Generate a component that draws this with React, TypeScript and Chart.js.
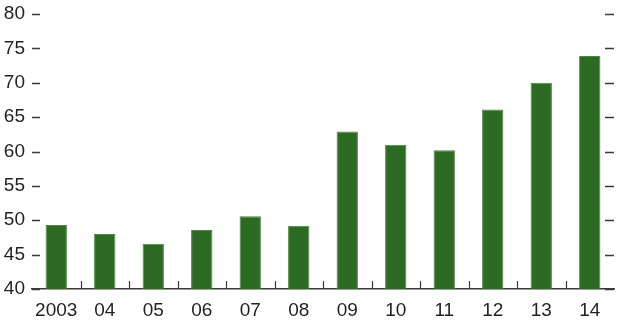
import { useEffect, useRef } from "react";
import { Chart, registerables } from "chart.js";

Chart.register(...registerables);

// Yearly values, 2003–2014
const years = ["2003", "04", "05", "06", "07", "08", "09", "10", "11", "12", "13", "14"];
const values = [49.3, 48.0, 46.6, 48.6, 50.6, 49.2, 62.9, 61.0, 60.2, 66.1, 70.0, 73.9];
const yMin = 40;
const yMax = 80;
const yStep = 5;

const BAR_COLOR = "#2d6a23";
const BAR_EDGE = "#4f8543";
const AXIS_COLOR = "#3a3a3a";
const TEXT_COLOR = "#231f20";
const FONT_FAMILY = "Arial, 'Liberation Sans', Helvetica, sans-serif";

// Short inward dashes on both sides for each y tick, plus small upward
// ticks on the x axis between categories.
const tickMarks = {
  id: "tickMarks",
  afterDraw(chart: Chart) {
    const { ctx, chartArea, scales } = chart;
    const y = scales.y;
    const x = scales.x;
    ctx.save();
    ctx.strokeStyle = AXIS_COLOR;
    ctx.lineWidth = 1.4;
    for (const t of y.ticks) {
      const py = Math.round(y.getPixelForValue(t.value)) + 0.5;
      ctx.beginPath();
      ctx.moveTo(chartArea.left, py);
      ctx.lineTo(chartArea.left + 8, py);
      ctx.moveTo(chartArea.right - 9, py);
      ctx.lineTo(chartArea.right, py);
      ctx.stroke();
    }
    const base = y.getPixelForValue(yMin);
    ctx.lineWidth = 1.2;
    for (let i = 0; i < years.length - 1; i++) {
      const px = Math.round((x.getPixelForValue(i) + x.getPixelForValue(i + 1)) / 2) + 0.5;
      ctx.beginPath();
      ctx.moveTo(px, base);
      ctx.lineTo(px, base - 8);
      ctx.stroke();
    }
    ctx.restore();
  },
};

export default function App() {
  const canvasRef = useRef<HTMLCanvasElement | null>(null);

  useEffect(() => {
    document.body.style.margin = "0";
    const canvas = canvasRef.current;
    if (!canvas) return;
    const chart = new Chart(canvas, {
      type: "bar",
      data: {
        labels: years,
        datasets: [
          {
            data: values,
            backgroundColor: BAR_COLOR,
            borderColor: BAR_EDGE,
            borderWidth: 1,
            categoryPercentage: 1,
            barPercentage: 0.44,
          },
        ],
      },
      options: {
        responsive: false,
        animation: false,
        devicePixelRatio: 1,
        layout: { padding: { top: 14, right: 7, left: 0, bottom: 0 } },
        plugins: {
          legend: { display: false },
          tooltip: { enabled: false },
        },
        scales: {
          x: {
            grid: { display: false, drawTicks: false },
            border: { display: true, color: AXIS_COLOR, width: 1.5 },
            ticks: {
              color: TEXT_COLOR,
              font: { family: FONT_FAMILY, size: 19 },
              padding: 10,
              maxRotation: 0,
              autoSkip: false,
            },
            afterFit(scale: any) {
              scale.height = 33;
              scale.paddingLeft = 0;
              scale.paddingRight = 0;
            },
          },
          y: {
            min: yMin,
            max: yMax,
            grid: { display: false, drawTicks: false },
            border: { display: false },
            ticks: {
              stepSize: yStep,
              color: TEXT_COLOR,
              font: { family: FONT_FAMILY, size: 19 },
              padding: 7,
            },
            afterFit(scale: any) {
              scale.width = 32;
              scale.paddingTop = 0;
              scale.paddingBottom = 0;
            },
          },
        },
      },
      plugins: [tickMarks],
    });
    return () => chart.destroy();
  }, []);

  return (
    <div style={{ position: "absolute", left: 0, top: 0, width: 621, height: 322, background: "#fff" }}>
      <canvas ref={canvasRef} width={621} height={322} />
    </div>
  );
}
